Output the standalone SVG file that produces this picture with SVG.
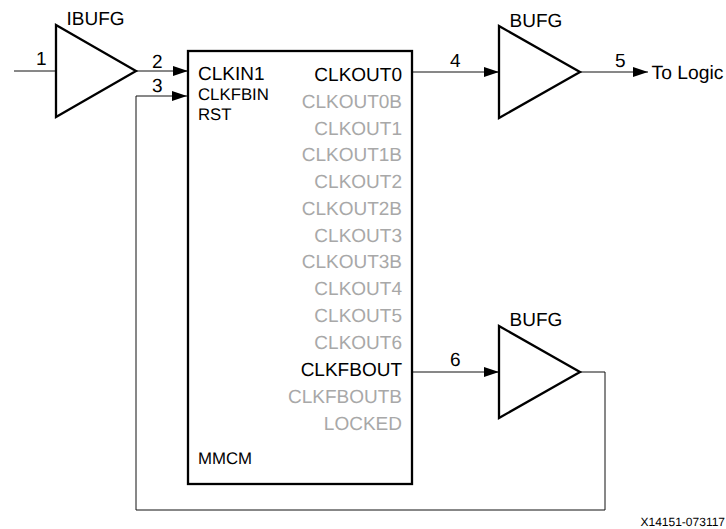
<svg xmlns="http://www.w3.org/2000/svg" width="726" height="529" viewBox="0 0 726 529">
<style>
text{font-family:"Liberation Sans",Arial,sans-serif;fill:#000;font-size:19px;text-rendering:geometricPrecision}
.shape{fill:#fff;stroke:#000;stroke-width:2.3}
.wire{fill:none;stroke:#111;stroke-width:1}
.wa{marker-end:url(#arr)}
.g{fill:#a8a8a8}
.r{text-anchor:end}
.s{font-size:16.8px}
</style>
<defs><marker id="arr" markerUnits="userSpaceOnUse" markerWidth="16" markerHeight="14" refX="15" refY="7" orient="auto"><path d="M0,2L15,7L0,12Z" fill="#000"/></marker></defs>
<rect width="726" height="529" fill="#fff"/>
<g id="connectors">
<path class="wire" d="M14 71H56"/>
<path class="wire wa" d="M136 71H188"/>
<path class="wire wa" d="M605 372V510H136V96H187"/>
<path class="wire wa" d="M412 72H499"/>
<path class="wire wa" d="M580 72H648"/>
<path class="wire wa" d="M412 372H499"/>
<path class="wire" d="M580 372H605"/>
</g>
<g id="ibufg"><path class="shape" d="M56 25L136 71L56 117Z"/><text x="66.500" y="25">IBUFG</text></g>
<g id="bufg1"><path class="shape" d="M499 26L580 72L499 118Z"/><text x="509.500" y="26.500">BUFG</text></g>
<g id="bufg2"><path class="shape" d="M499 326L580 372L499 418Z"/><text x="509.500" y="325.500">BUFG</text></g>
<g id="mmcm">
<rect class="shape" x="188" y="51" width="224" height="433"/>
<text x="198" y="80">CLKIN1</text>
<text class="s" x="198" y="100">CLKFBIN</text>
<text class="s" x="198" y="120">RST</text>
<text class="r" x="402" y="80.500">CLKOUT0</text>
<text class="r g" x="402" y="107.500">CLKOUT0B</text>
<text class="r g" x="402" y="134.500">CLKOUT1</text>
<text class="r g" x="402" y="161">CLKOUT1B</text>
<text class="r g" x="402" y="188">CLKOUT2</text>
<text class="r g" x="402" y="214.500">CLKOUT2B</text>
<text class="r g" x="402" y="242">CLKOUT3</text>
<text class="r g" x="402" y="268">CLKOUT3B</text>
<text class="r g" x="402" y="295">CLKOUT4</text>
<text class="r g" x="402" y="322">CLKOUT5</text>
<text class="r g" x="402" y="349">CLKOUT6</text>
<text class="r" x="402" y="376">CLKFBOUT</text>
<text class="r g" x="402" y="403">CLKFBOUTB</text>
<text class="r g" x="402" y="430">LOCKED</text>
<text class="s" x="198" y="464">MMCM</text>
</g>
<g id="labels">
<text x="36" y="65">1</text>
<text x="152" y="67.500">2</text>
<text x="152" y="92">3</text>
<text x="450" y="67">4</text>
<text x="615" y="66.500">5</text>
<text x="450" y="366">6</text>
<text x="651.500" y="78.500" style="font-size:19.3px">To Logic</text>
<text x="640.500" y="525.500" style="font-size:12px">X14151-073117</text>
</g>
</svg>
